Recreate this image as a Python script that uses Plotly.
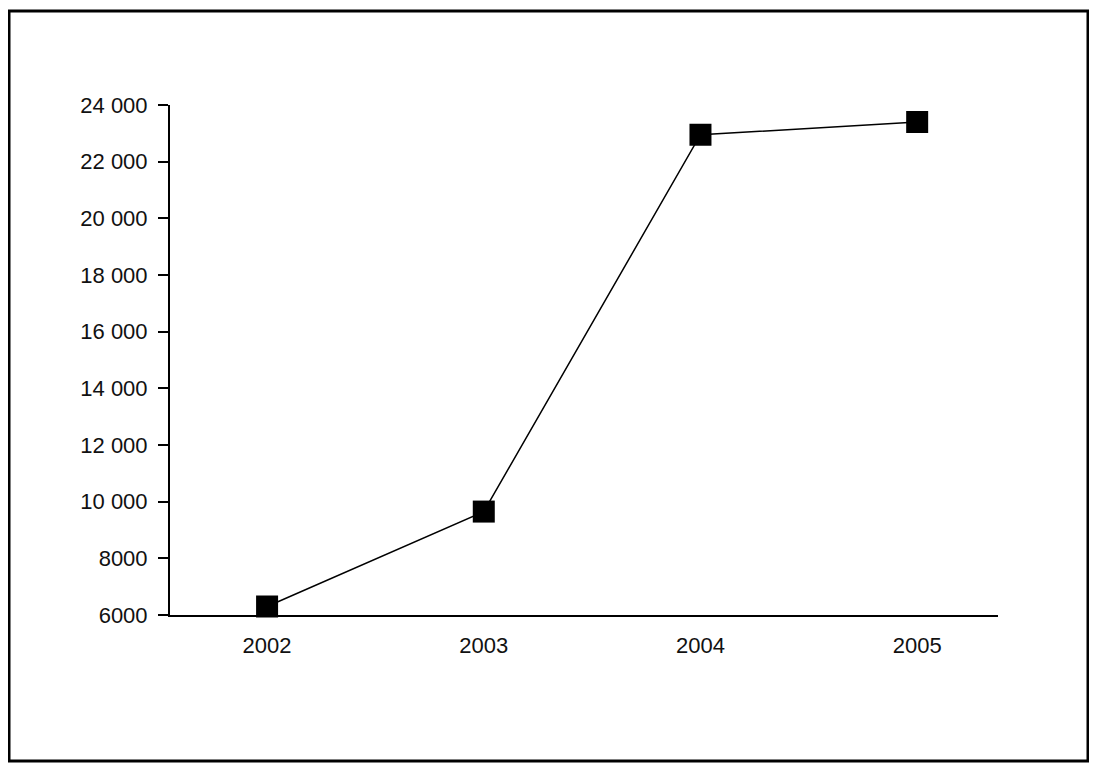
import plotly.graph_objects as go

years = ["2002", "2003", "2004", "2005"]
values = [6300, 9650, 22950, 23400]
y_tick_vals = [6000, 8000, 10000, 12000, 14000, 16000, 18000, 20000, 22000, 24000]
y_tick_text = ["6000", "8000", "10 000", "12 000", "14 000", "16 000",
               "18 000", "20 000", "22 000", "24 000"]

# page body has an 8px margin; figure is sized to fit inside the window
OFF = 8
W, H = 1097 - OFF, 771 - OFF
L, T = 170 - OFF, 105 - OFF
R = W - (998 - OFF)
B = H - (615 - OFF)
pw, ph = W - L - R, H - T - B

font = dict(family="Liberation Sans Narrow, Arial Narrow, Liberation Sans, Arial, sans-serif",
            size=22, color="#111111")

fig = go.Figure()
fig.add_trace(go.Scatter(
    x=years, y=values, mode="lines+markers",
    line=dict(color="black", width=1.5),
    marker=dict(symbol="square", size=22, color="black"),
    cliponaxis=False, showlegend=False,
))

def px_x(p):
    return (p - OFF - L) / pw

def px_y(p):
    return (H - B - (p - OFF)) / ph

fig.add_shape(type="rect", xref="paper", yref="paper",
              x0=px_x(9), x1=px_x(1088), y0=px_y(761), y1=px_y(11),
              line=dict(color="black", width=3), fillcolor="rgba(0,0,0,0)")

fig.update_layout(
    width=W, height=H,
    margin=dict(l=L, r=R, t=T, b=B, pad=0),
    paper_bgcolor="white", plot_bgcolor="white",
    font=font,
    xaxis=dict(type="category", range=[-0.448, 3.373], showgrid=False, zeroline=False,
               showline=True, linecolor="black", linewidth=2, ticks="",
               ticklabelstandoff=10, tickfont=font),
    yaxis=dict(range=[6000, 24000], tickvals=y_tick_vals, ticktext=y_tick_text,
               showgrid=False, zeroline=False, showline=True, linecolor="black",
               linewidth=2, ticks="outside", ticklen=10, tickwidth=2, tickcolor="black",
               ticklabelstandoff=6, tickfont=font),
)

fig.write_html("out.html")
